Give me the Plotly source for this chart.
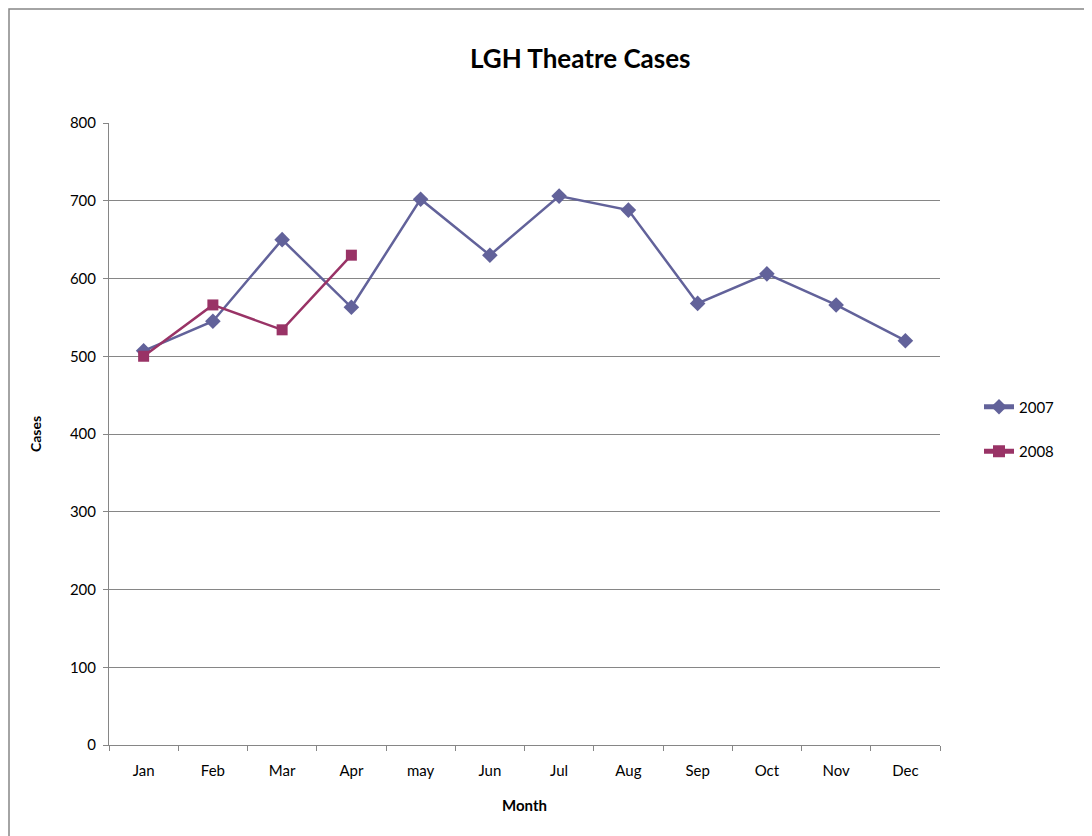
import plotly.graph_objects as go

months = ["Jan", "Feb", "Mar", "Apr", "may", "Jun", "Jul", "Aug", "Sep", "Oct", "Nov", "Dec"]
cases_2007 = [507, 545, 650, 563, 702, 630, 706, 688, 568, 606, 566, 520]
months_2008 = ["Jan", "Feb", "Mar", "Apr"]
cases_2008 = [500, 566, 534, 630]
y_ticks = [0, 100, 200, 300, 400, 500, 600, 700, 800]

FONT = "Lato"
OFF = 8  # page body margin
L, R, T, B = 109, 940, 123, 745  # target screen pixels of plot area
W, H = 1084, 828

def px_x(p):
    return (p - L) / (R - L)

def px_y(p):
    return (B - p) / (B - T)

fig = go.Figure()
fig.add_trace(go.Scatter(
    x=months, y=cases_2007, name="2007", mode="lines+markers", legendgroup="a",
    line=dict(color="#62629a", width=2.5),
    marker=dict(symbol="diamond", size=12, color="#62629a"),
))
fig.add_trace(go.Scatter(
    x=months_2008, y=cases_2008, name="2008", mode="lines+markers", legendgroup="b",
    line=dict(color="#993366", width=2.5),
    marker=dict(symbol="square", size=11, color="#993366"),
))

fig.update_layout(
    width=W, height=H,
    margin=dict(l=L - OFF, r=W - (R - OFF), t=T - OFF, b=H - (B - OFF)),
    paper_bgcolor="white", plot_bgcolor="white",
    font=dict(family=FONT, size=15, color="black"),
    showlegend=True,
    legend=dict(x=px_x(979), y=px_y(429), xanchor="left", yanchor="middle",
                font=dict(family=FONT, size=15), tracegroupgap=22,
                itemsizing="constant", bgcolor="rgba(0,0,0,0)"),
    xaxis=dict(
        type="category", categoryorder="array", categoryarray=months,
        range=[-0.5, 11.5], tickson="boundaries", ticks="outside", ticklen=5,
        tickcolor="#868686", showline=True, linecolor="#868686", linewidth=1,
        showgrid=False, zeroline=False, tickfont=dict(size=15),
        ticklabelstandoff=12,
        title=dict(text="<b>Month</b>", font=dict(size=15), standoff=22),
        fixedrange=True,
    ),
    yaxis=dict(
        range=[0, 800], tickvals=y_ticks, ticks="outside", ticklen=5,
        tickcolor="#868686", showline=True, linecolor="#868686", linewidth=1,
        showgrid=True, gridcolor="#868686", gridwidth=1, zeroline=False,
        tickfont=dict(size=15), ticklabelstandoff=4,
        title=dict(text="<b>Cases</b>", font=dict(size=14), standoff=24),
    ),
)

fig.add_annotation(
    text="<b>LGH Theatre Cases</b>", xref="paper", yref="paper",
    x=px_x(580), y=px_y(58), xanchor="center", yanchor="middle",
    showarrow=False, font=dict(family=FONT, size=26, color="black"),
)

fig.add_shape(
    type="rect", xref="paper", yref="paper",
    x0=px_x(9), x1=px_x(1110), y0=px_y(860), y1=px_y(9),
    line=dict(color="#868686", width=1.5), fillcolor="rgba(0,0,0,0)", layer="below",
)

fig.write_html("out.html")
